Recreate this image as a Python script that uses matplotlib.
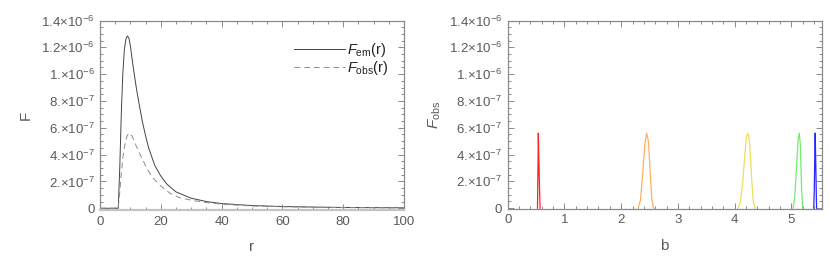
import matplotlib
matplotlib.use("Agg")
import matplotlib.pyplot as plt
from matplotlib.ticker import MultipleLocator, FixedLocator, FixedFormatter

plt.rcParams['font.family'] = ['Liberation Sans', 'DejaVu Sans']
plt.rcParams['mathtext.fontset'] = 'custom'
plt.rcParams['mathtext.rm'] = 'Liberation Sans'
plt.rcParams['mathtext.it'] = 'Liberation Sans:italic'
plt.rcParams['mathtext.default'] = 'regular'

# ---- data (left panel) ----
r_em = [0, 6.0, 6.5, 7.0, 7.5, 8.0, 8.5, 9.0, 9.5, 10, 11, 12, 13, 14, 15, 16, 18, 20, 22, 25,
        30, 35, 40, 50, 60, 70, 80, 90, 100]
F_em = [0, 0, 3.0, 7.0, 10.0, 11.8, 12.6, 12.85, 12.7, 12.1, 10.4, 8.9, 7.6, 6.4, 5.4, 4.5, 3.2,
        2.4, 1.8, 1.22, 0.75, 0.5, 0.35, 0.2, 0.13, 0.09, 0.06, 0.045, 0.035]
r_obs = [0, 6.0, 6.5, 7.0, 7.5, 8.0, 8.5, 9.0, 9.7, 10.5, 11, 12, 13, 14, 15, 16, 17.5, 20, 23, 26,
         30, 35, 40, 50, 60, 80, 100]
F_obs = [0, 0, 1.2, 2.6, 3.7, 4.5, 5.1, 5.45, 5.6, 5.4, 5.15, 4.6, 4.1, 3.65, 3.15, 2.75, 2.24,
         1.66, 1.12, 0.8, 0.6, 0.42, 0.3, 0.17, 0.11, 0.05, 0.03]

# ---- data (right panel): observed flux vs impact parameter ----
b_red = [0.525, 0.535, 0.540, 0.550, 0.565, 0.572]
F_red = [0, 3.5, 5.6, 3.5, 0.8, 0]
b_orange = [2.30, 2.34, 2.38, 2.42, 2.45, 2.48, 2.51, 2.54, 2.57]
F_orange = [0, 0.6, 2.6, 4.9, 5.6, 5.0, 2.8, 0.7, 0]
b_yellow = [4.06, 4.10, 4.14, 4.18, 4.21, 4.24, 4.27, 4.30, 4.33, 4.36]
F_yellow = [0, 0.4, 1.8, 4.0, 5.4, 5.6, 4.6, 2.2, 0.5, 0]
b_green = [5.03, 5.06, 5.09, 5.12, 5.14, 5.16, 5.18, 5.20]
F_green = [0, 0.8, 3.0, 5.2, 5.6, 4.6, 1.5, 0]
b_blue = [5.395, 5.405, 5.415, 5.42, 5.43, 5.44, 5.445]
F_blue = [0, 1.5, 4.5, 5.6, 3.5, 1.0, 0]

scale = 1e-7
ytick_vals = [0, 2e-7, 4e-7, 6e-7, 8e-7, 1e-6, 1.2e-6, 1.4e-6]
ytick_labels = ['0', r'2.×$10^{-7}$', r'4.×$10^{-7}$', r'6.×$10^{-7}$', r'8.×$10^{-7}$',
                r'1.×$10^{-6}$', r'1.2×$10^{-6}$', r'1.4×$10^{-6}$']

frame_col = '#8a8a8a'
text_col = '#5a5a5a'

fig = plt.figure(figsize=(8.3, 2.71), dpi=100)
ax1 = fig.add_axes([100/830, 1-210/271, 304/830, 189.5/271])
ax2 = fig.add_axes([507.7/830, 1-208.6/271, 314/830, 188/271])


def style(ax):
    for s in ax.spines.values():
        s.set_color(frame_col)
        s.set_linewidth(0.9)
    ax.tick_params(which='both', direction='in', top=True, right=True,
                   colors=frame_col, labelcolor=text_col, labelsize=9.5, width=0.7)
    ax.tick_params(which='major', length=4, pad=4)
    ax.tick_params(which='minor', length=2)
    ax.yaxis.set_major_locator(FixedLocator(ytick_vals))
    ax.yaxis.set_major_formatter(FixedFormatter(ytick_labels))
    ax.yaxis.set_minor_locator(MultipleLocator(0.5e-7))


# left
ax1.plot(r_em, [v*scale for v in F_em], color='#444444', lw=0.7, label=r'$\mathit{F}_{em}$(r)')
ax1.plot(r_obs, [v*scale for v in F_obs], color='#8c8c8c', lw=0.7, ls=(0, (6, 4)),
         label=r'$\mathit{F}_{obs}$(r)')
ax1.set_xlim(0, 100)
ax1.set_ylim(-0.013e-6, 1.4e-6)
style(ax1)
ax1.xaxis.set_major_locator(MultipleLocator(20))
ax1.xaxis.set_minor_locator(MultipleLocator(5))
ax1.spines['bottom'].set_color('#c4c4c4')
ax1.spines['bottom'].set_linewidth(1.6)
ax1.set_xlabel('r', color=text_col, fontsize=11, labelpad=9)
ax1.set_ylabel('F', color=text_col, fontsize=11, labelpad=6)
leg = ax1.legend(loc='upper right', frameon=False, fontsize=10.5, handlelength=3.5,
                 handletextpad=0.15, labelspacing=-0.05, borderaxespad=0.0,
                 labelcolor='#222222', bbox_to_anchor=(0.97, 0.92))

# right
for bx, fy, c in [(b_red, F_red, '#ff2020'), (b_orange, F_orange, '#ffb060'),
                  (b_yellow, F_yellow, '#f0dc60'), (b_green, F_green, '#70ee70'),
                  (b_blue, F_blue, '#2828ff')]:
    ax2.plot(bx, [v*scale for v in fy], color=c, lw=0.9)
ax2.set_xlim(0, 5.535)
ax2.set_ylim(-0.003e-6, 1.4e-6)
style(ax2)
ax2.xaxis.set_major_locator(MultipleLocator(1))
ax2.xaxis.set_minor_locator(MultipleLocator(0.2))
ax2.set_xlabel('b', color=text_col, fontsize=11, labelpad=9)
ax2.set_ylabel(r'$\mathit{F}_{obs}$', color=text_col, fontsize=11, labelpad=4)

fig.savefig('out.png', dpi=100)
